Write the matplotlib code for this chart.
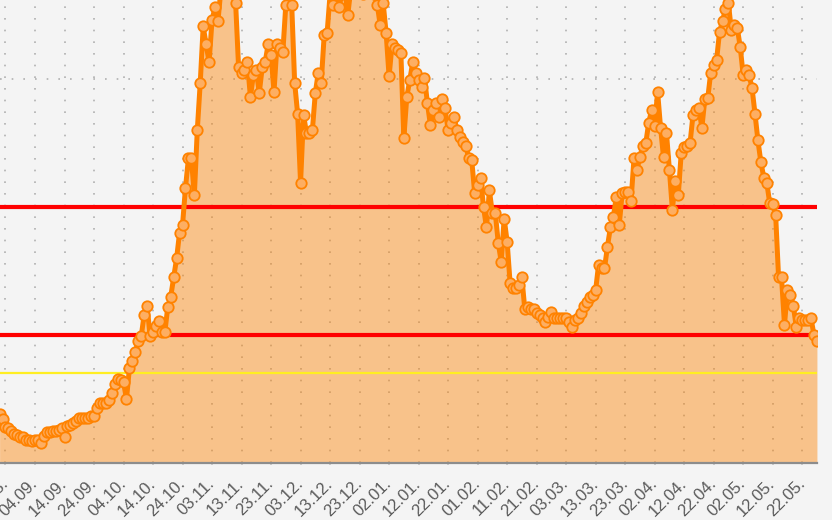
import numpy as np
import pandas as pd
import matplotlib
matplotlib.use("Agg")
import matplotlib.pyplot as plt
import matplotlib.dates as mdates
import matplotlib.transforms as mtransforms

# daily values, 23.08.2020 - 27.05.2021
VALUES = [
    38, 34, 28, 27, 25, 23, 22, 20, 20, 18,
    18, 17, 18, 18, 16, 21, 24, 24, 25, 25,
    26, 27, 20, 29, 30, 31, 33, 35, 35, 35,
    35, 37, 37, 43, 47, 47, 47, 49, 55, 62,
    66, 65, 63, 50, 74, 80, 87, 95, 99, 116,
    123, 99, 102, 107, 111, 102, 102, 122, 130, 145,
    160, 180, 186, 215, 238, 238, 209, 260, 297, 341,
    327, 313, 346, 356, 345, 370, 377, 381, 377, 370,
    359, 309, 305, 307, 313, 286, 303, 307, 289, 309,
    313, 327, 319, 290, 327, 324, 321, 358, 370, 358,
    297, 273, 219, 272, 258, 258, 260, 289, 305, 297,
    334, 336, 366, 358, 370, 356, 366, 370, 350, 370,
    377, 373, 370, 366, 370, 377, 370, 366, 358, 342,
    359, 336, 302, 327, 324, 323, 320, 254, 286, 299,
    313, 305, 299, 294, 301, 281, 264, 276, 281, 270,
    284, 277, 260, 266, 270, 260, 255, 251, 248, 238,
    237, 211, 217, 223, 200, 184, 213, 195, 195, 172,
    157, 191, 173, 141, 137, 137, 139, 145, 120, 122,
    120, 120, 117, 116, 113, 110, 114, 118, 113, 113,
    113, 113, 113, 110, 106, 112, 113, 117, 123, 126,
    130, 131, 135, 155, 152, 152, 169, 184, 192, 208,
    186, 211, 212, 212, 205, 238, 229, 239, 248, 250,
    266, 276, 263, 290, 262, 239, 258, 229, 198, 220,
    209, 242, 247, 248, 250, 272, 276, 277, 262, 284,
    285, 305, 311, 315, 337, 345, 355, 359, 338, 342,
    340, 325, 303, 307, 303, 293, 273, 252, 235, 223,
    219, 203, 202, 194, 145, 145, 108, 135, 131, 123,
    106, 113, 112, 112, 112, 113, 100, 95,
]
START = "2020-08-23"
RED_LINES = [200, 100]
YELLOW_LINE = 70
TICK_START = "2020-08-25"

dates = pd.date_range(START, periods=len(VALUES), freq="D")
vals = np.array(VALUES, dtype=float)

bg = "#f4f4f4"
orange = "#ff8200"
dots = (0, (1, 6))

fig = plt.figure(figsize=(8.32, 5.2), dpi=100, facecolor=bg)
ax = fig.add_axes([0.0, 57 / 520, 817 / 832, 463 / 520])
ax.set_facecolor(bg)

# x range: left edge ~ 23.08. early morning, right edge = last point
x0 = mdates.date2num(dates[0]) + 0.14
x1 = mdates.date2num(dates[-1]) + 0.02
ax.set_xlim(x0, x1)
ax.set_ylim(0, 361.7)

ticks = pd.date_range(TICK_START, periods=28, freq="10D")
tnum = mdates.date2num(ticks)
ax.set_xticks(tnum)
ax.xaxis.set_major_formatter(mdates.DateFormatter("%d.%m."))
ax.set_yticks([0, 300])
ax.set_yticklabels([])

ax.grid(True, color="#b0b0b0", linestyle=dots, linewidth=1.2, zorder=0)
ax.set_axisbelow(True)

# dotted tick marks below the axis
trans = mtransforms.blended_transform_factory(ax.transData, ax.transAxes)
for t in tnum:
    ax.plot([t, t], [0, -11 / 463], transform=trans, clip_on=False,
            color="#b0b0b0", linestyle=dots, linewidth=1.2)

ax.fill_between(dates, vals, 0, color=orange, alpha=0.43, linewidth=0, zorder=1)

for v in RED_LINES:
    ax.axhline(v, color="#ff0000", linewidth=3, zorder=2)
ax.axhline(YELLOW_LINE, color="#ffee22", linewidth=1.6, zorder=2)

ax.plot(dates, vals, color=orange, linewidth=3.6, zorder=3,
        marker="o", markersize=7.5, markerfacecolor="#fdae62",
        markeredgecolor=orange, markeredgewidth=1.3)

for side in ("top", "right", "left"):
    ax.spines[side].set_visible(False)
ax.spines["bottom"].set_color("#8c8c8c")
ax.spines["bottom"].set_linewidth(1.6)
ax.spines["bottom"].set_zorder(4)

ax.tick_params(axis="x", length=0, pad=13, labelsize=12, labelcolor="#5a5a5a")
ax.tick_params(axis="y", length=0)
for lab in ax.get_xticklabels():
    lab.set_family("Liberation Sans")
    lab.set_rotation(45)
    lab.set_ha("right")
    lab.set_rotation_mode("anchor")
    lab.set_va("center")

fig.savefig("out.png", dpi=100, facecolor=bg)
